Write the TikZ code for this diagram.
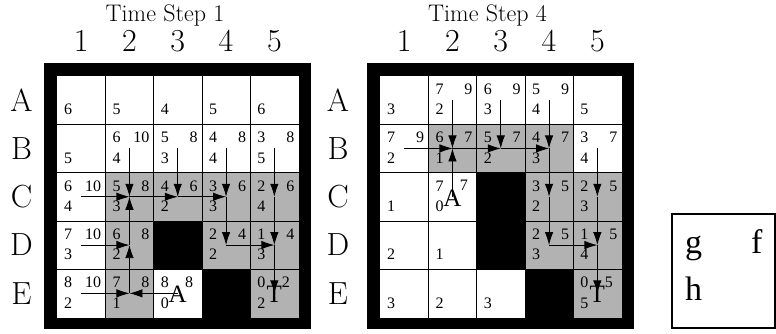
\documentclass[tikz,border=0pt]{standalone}
\usepackage{fontspec}
\newfontfamily\tms{Liberation Serif}
\usetikzlibrary{arrows.meta}
\newcommand\cellnum[7]{% #1 name, #2 X0, #3 col, #4 row, #5 g, #6 f, #7 h
  \node[num,anchor=base west] (#1-g) at ({#2+(#3-1)*48.3+7},{76+(#4-1)*48.3+18.5}) {#5};
  \node[num,anchor=base east] (#1-f) at ({#2+#3*48.3-4},{76+(#4-1)*48.3+18.5}) {#6};
  \node[num,anchor=base west] (#1-h) at ({#2+(#3-1)*48.3+7},{76+#4*48.3-9.5}) {#7};
}
\newcommand\hnum[5]{% #1 name, #2 X0, #3 col, #4 row, #5 h
  \node[num,anchor=base west] (#1-h) at ({#2+(#3-1)*48.3+7},{76+#4*48.3-9.5}) {#5};
}
\newcommand\lettercell[8]{% #1 name, #2 X0, #3 col, #4 row, #5 g, #6 f, #7 h, #8 letter
  \node[big,anchor=base] (#1-L) at ({#2+(#3-0.5)*48.3},{76+(#4-0.5)*48.3+9.5}) {#8};
  \node[num,anchor=base west] (#1-g) at ({#2+(#3-1)*48.3+7},{76+(#4-1)*48.3+18.5}) {#5};
  \node[num,anchor=base east] (#1-f) at ({#2+#3*48.3-8.5},{76+(#4-1)*48.3+18}) {#6};
  \node[num,anchor=base west] (#1-h) at ({#2+(#3-1)*48.3+7},{76+#4*48.3-9.5}) {#7};
}
\newcommand\cellfill[4]{% #1 style, #2 X0, #3 col, #4 row
  \fill[#1] ({#2+(#3-1)*48.3},{76+(#4-1)*48.3}) rectangle ++(48.3,48.3);
}
\begin{document}
\begin{tikzpicture}[x=1pt,y=-1pt,
  num/.style={inner sep=0pt,font=\tms\fontsize{16}{16}\selectfont},
  big/.style={inner sep=0pt,font=\tms\fontsize{25}{25}\selectfont},
  lab/.style={inner sep=0pt,font=\fontsize{32}{32}\selectfont},
  ttl/.style={inner sep=0pt,font=\fontsize{24}{24}\selectfont},
  leg/.style={inner sep=0pt,font=\tms\fontsize{34}{34}\selectfont},
  grayc/.style={fill=black!30},
  wall/.style={fill=black},
  gridline/.style={line width=0.8pt},
  arr/.style={line width=0.8pt,-{Latex[length=13pt,width=8.5pt]}},
  legbox/.style={draw,line width=1.3pt}
]
\useasboundingbox (0,0) rectangle (776,334);

% ---------- frames ----------
\fill (44,63) rectangle (311,329);
\fill[white] (57,76) rectangle (298.5,317.5);
\fill (367,63) rectangle (634,329);
\fill[white] (380,76) rectangle (621.5,317.5);

% ---------- gray cells ----------
\foreach \c/\r in {2/3,3/3,4/3,5/3,2/4,4/4,5/4,2/5,5/5} {\cellfill{grayc}{57}{\c}{\r}}
\foreach \c/\r in {2/2,3/2,4/2,4/3,5/3,4/4,5/4,5/5} {\cellfill{grayc}{380}{\c}{\r}}

% ---------- grid lines ----------
\foreach \i in {1,...,4} {
  \draw[gridline] ({57+\i*48.3},76) -- ({57+\i*48.3},317.5);
  \draw[gridline] (57,{76+\i*48.3}) -- (298.5,{76+\i*48.3});
  \draw[gridline] ({380+\i*48.3},76) -- ({380+\i*48.3},317.5);
  \draw[gridline] (380,{76+\i*48.3}) -- (621.5,{76+\i*48.3});
}

% ---------- walls ----------
\foreach \c/\r in {3/4,4/5} {\cellfill{wall}{57}{\c}{\r}}
\foreach \c/\r in {3/3,3/4,4/5} {\cellfill{wall}{380}{\c}{\r}}

% ---------- titles and labels ----------
\node[ttl,anchor=base] (t1) at (165,22) {Time Step 1};
\node[ttl,anchor=base] (t4) at (487.5,22) {Time Step 4};
\foreach \c in {1,...,5} {
  \node[lab] (ca\c) at ({57+(\c-0.5)*48.3},41) {\c};
  \node[lab] (cb\c) at ({380+(\c-0.5)*48.3},41) {\c};
}
\foreach \r/\R in {1/A,2/B,3/C,4/D,5/E} {
  \node[lab] (ra\R) at (21.5,{76+(\r-0.5)*48.3}) {\R};
  \node[lab] (rb\R) at (338,{76+(\r-0.5)*48.3}) {\R};
}

% ---------- cell centres ----------
\foreach \r/\R in {1/A,2/B,3/C,4/D,5/E} {
  \foreach \c in {1,...,5} {
    \coordinate (a\R\c) at ({57+(\c-0.5)*48.3},{76+(\r-0.5)*48.3});
    \coordinate (b\R\c) at ({380+(\c-0.5)*48.3},{76+(\r-0.5)*48.3});
  }
}

% ---------- grid 1 numbers ----------
\hnum{aA1}{57}{1}{1}{6}
\hnum{aA2}{57}{2}{1}{5}
\hnum{aA3}{57}{3}{1}{4}
\hnum{aA4}{57}{4}{1}{5}
\hnum{aA5}{57}{5}{1}{6}
\hnum{aB1}{57}{1}{2}{5}
\cellnum{aB2}{57}{2}{2}{6}{10}{4}
\cellnum{aB3}{57}{3}{2}{5}{8}{3}
\cellnum{aB4}{57}{4}{2}{4}{8}{4}
\cellnum{aB5}{57}{5}{2}{3}{8}{5}
\cellnum{aC1}{57}{1}{3}{6}{10}{4}
\cellnum{aC2}{57}{2}{3}{5}{8}{3}
\cellnum{aC3}{57}{3}{3}{4}{6}{2}
\cellnum{aC4}{57}{4}{3}{3}{6}{3}
\cellnum{aC5}{57}{5}{3}{2}{6}{4}
\cellnum{aD1}{57}{1}{4}{7}{10}{3}
\cellnum{aD2}{57}{2}{4}{6}{8}{2}
\cellnum{aD4}{57}{4}{4}{2}{4}{2}
\cellnum{aD5}{57}{5}{4}{1}{4}{3}
\cellnum{aE1}{57}{1}{5}{8}{10}{2}
\cellnum{aE2}{57}{2}{5}{7}{8}{1}
\lettercell{aE3}{57}{3}{5}{8}{8}{0}{A}
\lettercell{aE5}{57}{5}{5}{0}{2}{2}{T}

% ---------- grid 2 numbers ----------
\hnum{bA1}{380}{1}{1}{3}
\cellnum{bA2}{380}{2}{1}{7}{9}{2}
\cellnum{bA3}{380}{3}{1}{6}{9}{3}
\cellnum{bA4}{380}{4}{1}{5}{9}{4}
\hnum{bA5}{380}{5}{1}{5}
\cellnum{bB1}{380}{1}{2}{7}{9}{2}
\cellnum{bB2}{380}{2}{2}{6}{7}{1}
\cellnum{bB3}{380}{3}{2}{5}{7}{2}
\cellnum{bB4}{380}{4}{2}{4}{7}{3}
\cellnum{bB5}{380}{5}{2}{3}{7}{4}
\hnum{bC1}{380}{1}{3}{1}
\lettercell{bC2}{380}{2}{3}{7}{7}{0}{A}
\cellnum{bC4}{380}{4}{3}{3}{5}{2}
\cellnum{bC5}{380}{5}{3}{2}{5}{3}
\hnum{bD1}{380}{1}{4}{2}
\hnum{bD2}{380}{2}{4}{1}
\cellnum{bD4}{380}{4}{4}{2}{5}{3}
\cellnum{bD5}{380}{5}{4}{1}{5}{4}
\hnum{bE1}{380}{1}{5}{3}
\hnum{bE2}{380}{2}{5}{2}
\hnum{bE3}{380}{3}{5}{3}
\lettercell{bE5}{380}{5}{5}{0}{5}{5}{T}

% ---------- grid 1 arrows ----------
\draw[arr] (aC1) -- (aC2);
\draw[arr] (aB2) -- (aC2);
\draw[arr] (aD2) -- (aC2);
\draw[arr] (aE2) -- (aD2);
\draw[arr] (aD1) -- (aD2);
\draw[arr] (aE1) -- (aE2);
\draw[arr] (aE3) -- (aE2);
\draw[arr] (aB3) -- (aC3);
\draw[arr] (aC2) -- (aC3);
\draw[arr] (aB4) -- (aC4);
\draw[arr] (aC3) -- (aC4);
\draw[arr] (aB5) -- (aC5);
\draw[arr] (aC4) -- (aD4);
\draw[arr] (aD4) -- (aD5);
\draw[arr] (aC5) -- (aD5);
\draw[arr] (aD5) -- (aE5);

% ---------- grid 2 arrows ----------
\draw[arr] (bA2) -- (bB2);
\draw[arr] (bA3) -- (bB3);
\draw[arr] (bA4) -- (bB4);
\draw[arr] (bB1) -- (bB2);
\draw[arr] (bB2) -- (bB3);
\draw[arr] (bB3) -- (bB4);
\draw[arr] (bC2) -- (bB2);
\draw[arr] (bB4) -- (bC4);
\draw[arr] (bB5) -- (bC5);
\draw[arr] (bC4) -- (bD4);
\draw[arr] (bC5) -- (bD5);
\draw[arr] (bD4) -- (bD5);
\draw[arr] (bD5) -- (bE5);

% ---------- legend ----------
\draw[legbox] (672,214) rectangle (775,328);
\node[leg,anchor=base west] (lg) at (685,253) {g};
\node[leg,anchor=base west] (lf) at (751,253) {f};
\node[leg,anchor=base west] (lh) at (685,300) {h};
\end{tikzpicture}
\end{document}
